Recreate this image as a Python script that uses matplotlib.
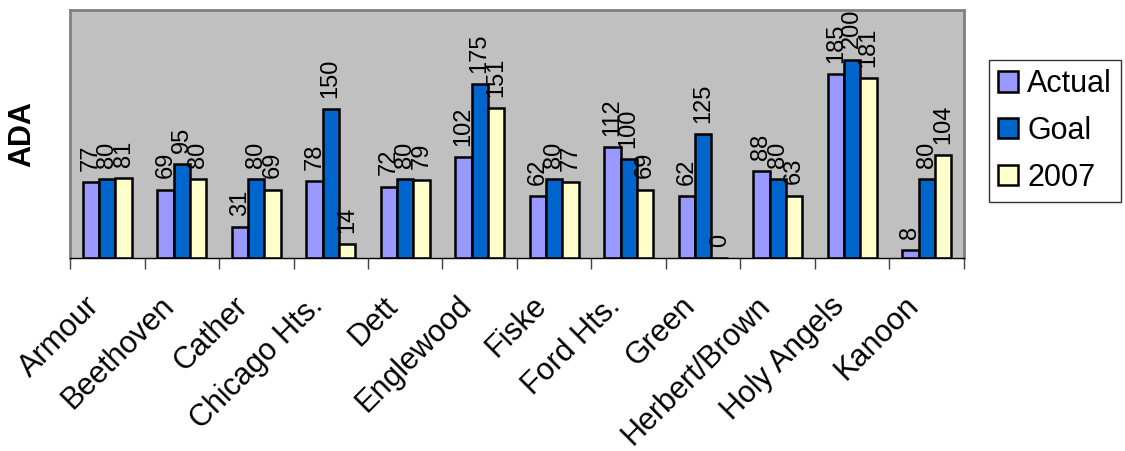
import numpy as np
import matplotlib.pyplot as plt
from matplotlib.transforms import ScaledTranslation

plt.rcParams['font.family'] = ['Liberation Sans', 'DejaVu Sans']

# data
schools = ["Armour", "Beethoven", "Cather", "Chicago Hts.", "Dett", "Englewood",
           "Fiske", "Ford Hts.", "Green", "Herbert/Brown", "Holy Angels", "Kanoon"]
actual = [77, 69, 31, 78, 72, 102, 62, 112, 62, 88, 185, 8]
goal = [80, 95, 80, 150, 80, 175, 80, 100, 125, 80, 200, 80]
y2007 = [81, 80, 69, 14, 79, 151, 77, 69, 0, 63, 181, 104]

series = [("Actual", actual, "#9999FF"),
          ("Goal", goal, "#0066CC"),
          ("2007", y2007, "#FFFFCC")]

fig = plt.figure(figsize=(11.25, 4.51), dpi=100)
ax = fig.add_axes([70 / 1125, 1 - 258 / 451, 894 / 1125, 248 / 451])
ax.set_facecolor("#C0C0C0")

x = np.arange(len(schools))
w = 0.22
for i, (name, vals, col) in enumerate(series):
    pos = x + (i - 1) * w
    ax.bar(pos, vals, width=w, color=col, edgecolor="black", linewidth=1.8, label=name)
    for p, v in zip(pos, vals):
        ax.annotate(str(v), (p, v), xytext=(0, 8), textcoords="offset points",
                    rotation=90, ha="center", va="bottom", fontsize=17)

ax.set_xlim(-0.5, len(schools) - 0.5)
ax.set_ylim(0, 250)
ax.set_yticks([])
ax.set_ylabel("ADA", fontsize=22, fontweight="bold")
ax.yaxis.set_label_coords(-33 / 894, 0.5)

# ticks between categories, labels under the centres
ax.set_xticks(np.arange(len(schools) + 1) - 0.5)
ax.set_xticklabels([])
ax.tick_params(axis="x", direction="out", length=8, width=1, color="#404040")
ax.set_xticks(x, minor=True)
ax.set_xticklabels(schools, minor=True, rotation=45, ha="right", rotation_mode="anchor", fontsize=22)
ax.tick_params(axis="x", which="minor", length=0, pad=20)
shift = ScaledTranslation(-23 / 100, -5 / 100, fig.dpi_scale_trans)
for lab in ax.get_xticklabels(minor=True):
    lab.set_transform(lab.get_transform() + shift)

for side in ["top", "left", "right"]:
    ax.spines[side].set_color("#808080")
    ax.spines[side].set_linewidth(2)
ax.spines["bottom"].set_color("black")
ax.spines["bottom"].set_linewidth(1)

leg = fig.legend(loc="upper left", bbox_to_anchor=(989 / 1125, 1 - 60 / 451),
                 fontsize=22, frameon=True, fancybox=False, handlelength=0.65,
                 handleheight=0.65, handletextpad=0.3, borderpad=0.3,
                 labelspacing=0.55, borderaxespad=0)
leg.get_frame().set_edgecolor("black")
leg.get_frame().set_linewidth(1)

fig.savefig("out.png", dpi=100)
